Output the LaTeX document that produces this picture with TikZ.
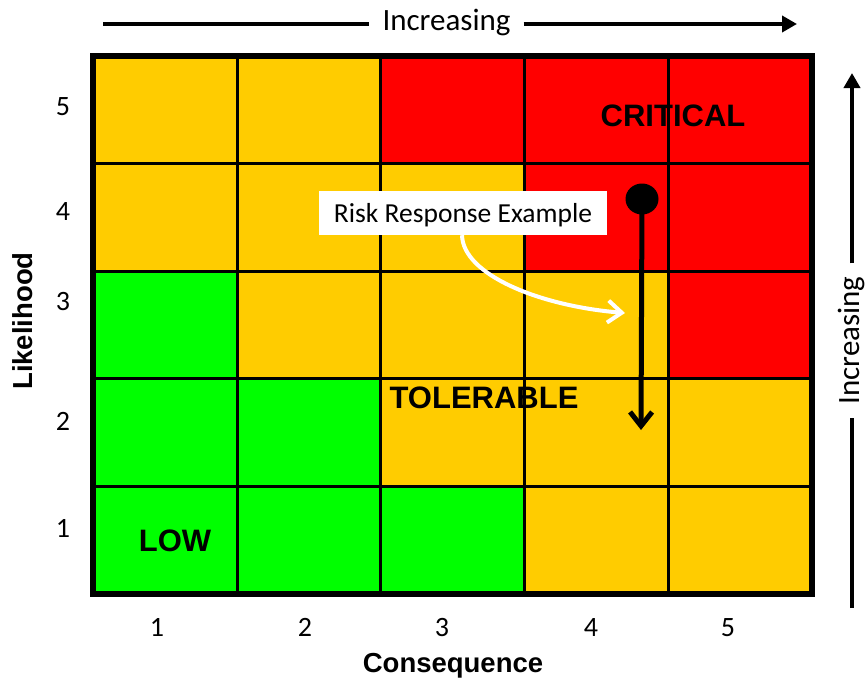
\documentclass[tikz,border=0pt]{standalone}
\usepackage{fontspec}
\setmainfont{Carlito}
\newfontfamily\arialf{Liberation Sans}
\usetikzlibrary{arrows.meta,shapes.geometric}
\definecolor{ramber}{HTML}{FFCC00}
\definecolor{rred}{HTML}{FF0000}
\definecolor{rgreen}{HTML}{00FF00}
\begin{document}
\begin{tikzpicture}[x=1pt,y=-1pt,
  num/.style={font=\fontsize{28}{28}\selectfont, inner sep=0pt},
  zone/.style={font=\arialf\bfseries\fontsize{31}{31}\selectfont, inner sep=0pt},
  axislbl/.style={font=\arialf\bfseries\fontsize{27.5}{28}\selectfont, inner sep=0pt},
  incr/.style={font=\fontsize{31}{31}\selectfont, inner ysep=0pt, inner xsep=13pt},
  bigline/.style={line width=4.5pt},
  gridline/.style={line width=3pt},
  tri/.style={-{Triangle[length=15pt,width=16pt]}}]
\useasboundingbox (0,0) rectangle (866,677);
% cells
\fill[ramber] (93,56) rectangle (812,593.5);
\fill[rred] (380.5,56) -- (812,56) -- (812,378.5) -- (668,378.5) -- (668,271)
  -- (524,271) -- (524,163.5) -- (380.5,163.5) -- cycle;
\fill[rgreen] (93,271) -- (237,271) -- (237,378.5) -- (380.5,378.5) -- (380.5,486)
  -- (524,486) -- (524,593.5) -- (93,593.5) -- cycle;
% grid
\foreach \gx in {237,380.5,524,668} \draw[gridline] (\gx,56) -- (\gx,593.5);
\foreach \gy in {163.5,271,378.5,486} \draw[gridline] (93,\gy) -- (812,\gy);
\draw[line width=6pt] (93,56) rectangle (812,593.5);
% zone labels
\node[zone] (critical) at (673,116) {CRITICAL};
\node[zone] (tolerable) at (484,398) {TOLERABLE};
\node[zone] (low) at (175,541) {LOW};
% row numbers
\node[num] (r5) at (63,107) {5};
\node[num] (r4) at (63,212) {4};
\node[num] (r3) at (63,302) {3};
\node[num] (r2) at (63,421) {2};
\node[num] (r1) at (63,528) {1};
% column numbers
\node[num,anchor=base] (c1) at (157,636) {1};
\node[num,anchor=base] (c2) at (305,636) {2};
\node[num,anchor=base] (c3) at (442,636) {3};
\node[num,anchor=base] (c4) at (591,636) {4};
\node[num,anchor=base] (c5) at (728,636) {5};
% axis titles
\node[axislbl,anchor=base] (conseq) at (453,672) {Consequence};
\node[axislbl,rotate=90] (likeli) at (23,321) {Likelihood};
% top increasing arrow
\node[incr,anchor=base] (inctop) at (446.5,31) {Increasing};
\coordinate (tl) at (103,24);
\coordinate (tr) at (797,24);
\draw[bigline] (tl) -- (tl -| inctop.west);
\draw[bigline,tri] (tr -| inctop.east) -- (tr);
% right increasing arrow
\node[incr,anchor=base,rotate=90] (incright) at (859,340.5) {Increasing};
\coordinate (rb) at (852,608);
\coordinate (rt) at (852,73);
\draw[bigline] (rb) -- (rb |- incright.west);
\draw[bigline,tri] (rt |- incright.east) -- (rt);
% risk response example
\node[fill=white, minimum width=288pt, minimum height=44pt, inner sep=0pt,
  text height=18pt, text depth=0pt, font=\fontsize{27.5}{28}\selectfont]
  (risk) at (463,213) {Risk Response Example};
\coordinate (wend) at (625,313);
\draw[white, line width=4pt, -{Straight Barb[length=14pt,width=22pt]}]
  ([xshift=-1pt]risk.south) .. controls (463,275) and (540,306) .. (wend);
\node[ellipse, fill=black, minimum width=33pt, minimum height=31pt, inner sep=0pt]
  (dot) at (642,199) {};
\coordinate (bend) at (641,430);
\draw[line width=5pt, -{Straight Barb[length=14pt,width=22pt]}] (dot.center) -- (bend);
\end{tikzpicture}
\end{document}
